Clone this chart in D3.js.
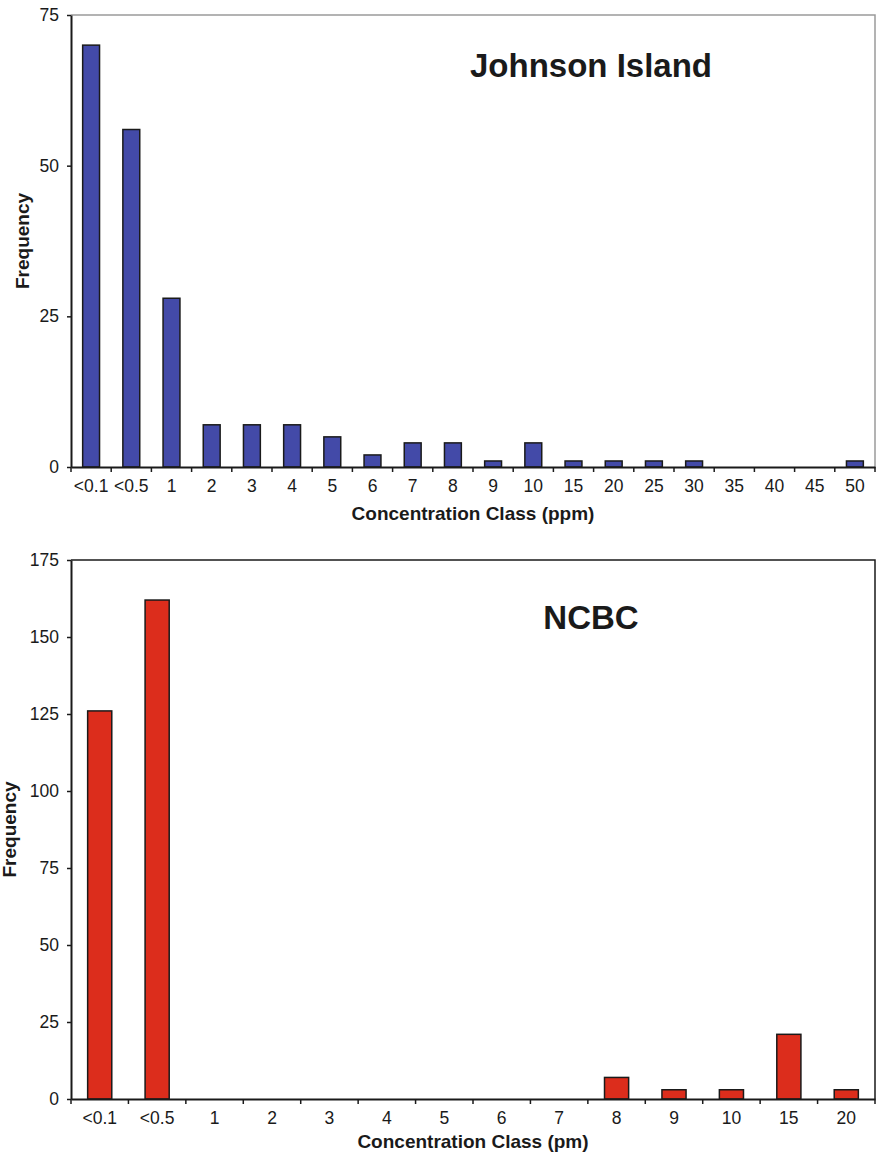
<!DOCTYPE html>
<html>
<head>
<meta charset="utf-8">
<script src="https://cdn.jsdelivr.net/npm/d3@7"></script>
<style>
  body { margin: 0; background: #fff; }
  svg { display: block; font-family: "Liberation Sans", Arial, sans-serif; }
</style>
</head>
<body>
<svg width="877" height="1157"></svg>
<script>
// Johnson Island
let jiClasses = ["<0.1", "<0.5", "1", "2", "3", "4", "5", "6", "7", "8", "9", "10", "15", "20", "25", "30", "35", "40", "45", "50"];
let jiFrequency = [70, 56, 28, 7, 7, 7, 5, 2, 4, 4, 1, 4, 1, 1, 1, 1, 0, 0, 0, 1];
let jiTicks = [0, 25, 50, 75];

// NCBC
let ncbcClasses = ["<0.1", "<0.5", "1", "2", "3", "4", "5", "6", "7", "8", "9", "10", "15", "20"];
let ncbcFrequency = [126, 162, 0, 0, 0, 0, 0, 0, 0, 7, 3, 3, 21, 3];
let ncbcTicks = [0, 25, 50, 75, 100, 125, 150, 175];

let svg = d3.select("svg");

function panel(opts) {
    let left = 71, right = 875,
        top = opts.top, bottom = opts.bottom;

    let x = d3.scaleBand()
        .domain(opts.classes)
        .range([left, right])
        .paddingInner(0.58)
        .paddingOuter(0.29);

    let cell = d3.scaleBand()
        .domain(opts.classes)
        .range([left, right]);

    let y = d3.scaleLinear()
        .domain([0, d3.max(opts.ticks)])
        .range([bottom, top]);

    let rows = opts.classes.map((c, i) => ({cls: c, value: opts.values[i]}))
        .filter(d => d.value > 0);

    let g = svg.append("g");

    // frame (top + right)
    g.append("path")
        .attr("d", "M" + left + "," + top + "H" + right + "V" + bottom)
        .attr("fill", "none")
        .attr("stroke", opts.frame)
        .attr("stroke-width", 1.5);

    // bars
    g.append("g")
        .selectAll("rect")
        .data(rows)
        .enter().append("rect")
        .attr("x", d => x(d.cls))
        .attr("y", d => y(d.value))
        .attr("width", x.bandwidth())
        .attr("height", d => y(0) - y(d.value))
        .attr("fill", opts.color)
        .attr("stroke", "#1a1a1a")
        .attr("stroke-width", 1.5);

    // y axis
    let yAxis = g.append("g")
        .attr("transform", "translate(" + left + ",0)")
        .call(d3.axisLeft(y).tickValues(opts.ticks).tickSize(4).tickSizeOuter(0).tickPadding(8));
    yAxis.select(".domain").attr("stroke", "#1a1a1a").attr("stroke-width", 2);
    yAxis.selectAll(".tick line").attr("stroke", "#1a1a1a").attr("stroke-width", 1.5);
    yAxis.selectAll("text").attr("font-size", 17.5).attr("fill", "#1a1a1a").attr("font-family", "Liberation Sans, Arial, sans-serif");

    // x axis with ticks between classes
    let xAxis = g.append("g")
        .attr("transform", "translate(0," + bottom + ")")
        .call(d3.axisBottom(cell).tickSize(0).tickSizeOuter(0).tickPadding(opts.labelPad));
    xAxis.select(".domain").attr("stroke", "#1a1a1a").attr("stroke-width", 2);
    xAxis.selectAll("text").attr("font-size", 17.5).attr("fill", "#1a1a1a").attr("font-family", "Liberation Sans, Arial, sans-serif");

    let edges = opts.classes.map(c => cell(c)).concat([cell.range()[1]]);
    xAxis.selectAll("line.edge")
        .data(edges)
        .enter().append("line")
        .attr("class", "edge")
        .attr("x1", d => d).attr("x2", d => d)
        .attr("y1", 0).attr("y2", 5)
        .attr("stroke", "#1a1a1a")
        .attr("stroke-width", 1.5);

    // axis titles
    g.append("text")
        .attr("x", (left + right) / 2)
        .attr("y", opts.xTitleY)
        .attr("text-anchor", "middle")
        .attr("font-size", 19)
        .attr("font-weight", "bold")
        .attr("fill", "#1a1a1a")
        .text(opts.xTitle);

    g.append("text")
        .attr("transform", "translate(" + opts.yTitleX + "," + (top + bottom) / 2 + ") rotate(-90)")
        .attr("text-anchor", "middle")
        .attr("font-size", 19)
        .attr("font-weight", "bold")
        .attr("fill", "#1a1a1a")
        .text("Frequency");

    // panel title
    g.append("text")
        .attr("x", 591)
        .attr("y", opts.titleY)
        .attr("text-anchor", "middle")
        .attr("font-size", 33)
        .attr("font-weight", "bold")
        .attr("fill", "#1a1a1a")
        .text(opts.title);
}

panel({
    classes: jiClasses, values: jiFrequency, ticks: jiTicks,
    top: 15, bottom: 467, color: "#434aa8", frame: "#9a9a9a",
    labelPad: 13, xTitle: "Concentration Class (ppm)", xTitleY: 520,
    yTitleX: 29, title: "Johnson Island", titleY: 77
});

panel({
    classes: ncbcClasses, values: ncbcFrequency, ticks: ncbcTicks,
    top: 560, bottom: 1099, color: "#dc2d1c", frame: "#1a1a1a",
    labelPad: 13, xTitle: "Concentration Class (pm)", xTitleY: 1148,
    yTitleX: 16, title: "NCBC", titleY: 629
});
</script>
</body>
</html>
